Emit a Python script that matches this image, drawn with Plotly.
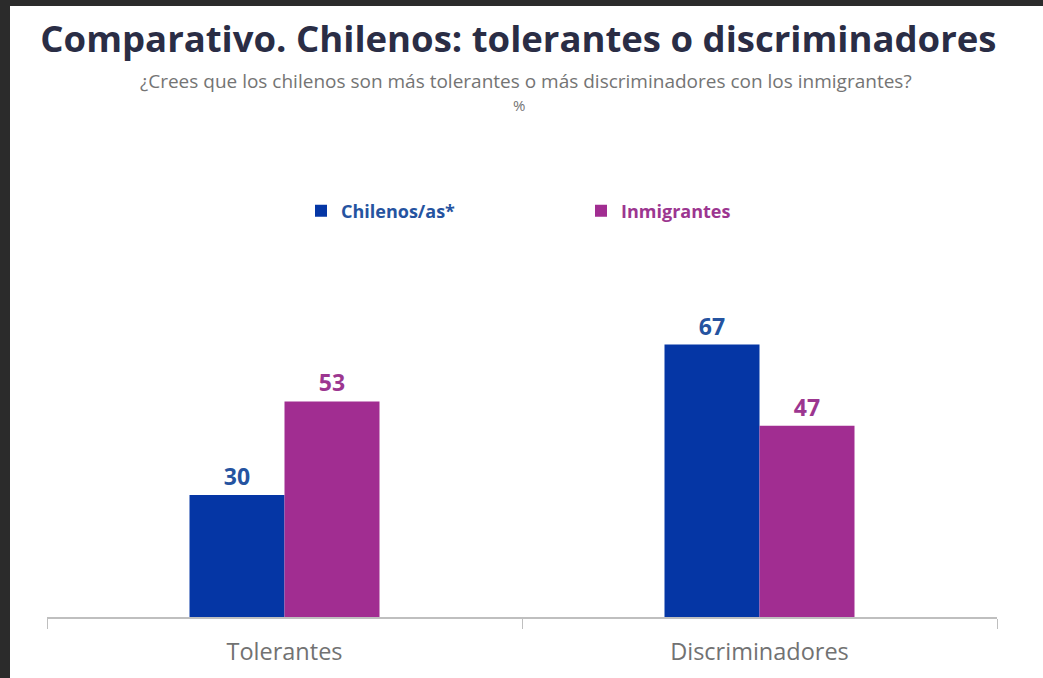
import plotly.graph_objects as go

categories = ["Tolerantes", "Discriminadores"]
series_names = ["Chilenos/as*", "Inmigrantes"]
chilenos = [30, 67]
inmigrantes = [53, 47]

bar_colors = ["#0536A5", "#A12D91"]
label_colors = ["#2553A0", "#9C3690"]

W, H = 1043, 678
ML, MR, MT, MB = 47, 46, 251, 61
plot_w = W - ML - MR
plot_h = H - MT - MB
FONT = "Open Sans"

fig = go.Figure()
for name, vals, c, lc in zip(series_names, [chilenos, inmigrantes], bar_colors, label_colors):
    fig.add_trace(go.Bar(
        x=categories, y=vals,
        name=f"<b><span style='color:{lc}'>{name}</span></b>",
        marker=dict(color=c, line=dict(width=0)),
        text=[str(v) for v in vals], textposition="outside",
        textfont=dict(family=FONT, size=23, color=lc),
        texttemplate="<b>%{text}</b>",
        cliponaxis=False,
    ))

def px_to_paper_x(px):
    return (px - ML) / plot_w

def px_to_paper_y(py):
    return (H - MB - py) / plot_h

# dark frame edges seen in the reference screenshot
shapes = [
    dict(type="rect", xref="paper", yref="paper",
         x0=px_to_paper_x(0), x1=px_to_paper_x(10),
         y0=px_to_paper_y(H), y1=px_to_paper_y(0),
         fillcolor="#2b2b2b", line=dict(width=0), layer="above"),
    dict(type="rect", xref="paper", yref="paper",
         x0=px_to_paper_x(0), x1=px_to_paper_x(W),
         y0=px_to_paper_y(6), y1=px_to_paper_y(0),
         fillcolor="#2b2b2b", line=dict(width=0), layer="above"),
]

fig.update_layout(
    width=W, height=H,
    margin=dict(l=ML, r=MR, t=MT, b=MB),
    paper_bgcolor="white", plot_bgcolor="white",
    barmode="group", bargap=0.6, bargroupgap=0,
    title=dict(text="<b>Comparativo. Chilenos: tolerantes o discriminadores</b>",
               x=0.497, xanchor="center", y=1 - 39 / H, yanchor="middle",
               font=dict(family=FONT, size=36.5, color="#2A2D45")),
    annotations=[
        dict(text="¿Crees que los chilenos son más tolerantes o más discriminadores con los inmigrantes?",
             xref="paper", yref="paper", x=px_to_paper_x(526), y=px_to_paper_y(81),
             xanchor="center", yanchor="middle", showarrow=False,
             font=dict(family=FONT, size=19, color="#747474")),
        dict(text="%", xref="paper", yref="paper", x=px_to_paper_x(519), y=px_to_paper_y(105),
             xanchor="center", yanchor="middle", showarrow=False,
             font=dict(family=FONT, size=15, color="#747474")),
    ],
    shapes=shapes,
    legend=dict(orientation="h", x=px_to_paper_x(301), y=px_to_paper_y(211),
                xanchor="left", yanchor="middle",
                entrywidth=235, entrywidthmode="pixels",
                font=dict(family=FONT, size=18), bgcolor="rgba(0,0,0,0)"),
    xaxis=dict(showline=True, linecolor="#BFBFBF", linewidth=2,
               ticks="outside", tickson="boundaries", ticklen=10, tickcolor="#BFBFBF",
               tickwidth=1, ticklabelstandoff=13,
               tickfont=dict(family=FONT, size=23.5, color="#727272")),
    yaxis=dict(range=[0, 90], visible=False, showgrid=False, zeroline=False),
    showlegend=True,
)

fig.write_html("out.html",
               config={"displayModeBar": False},
               post_script="document.body.style.margin='0';document.body.style.overflow='hidden';")
